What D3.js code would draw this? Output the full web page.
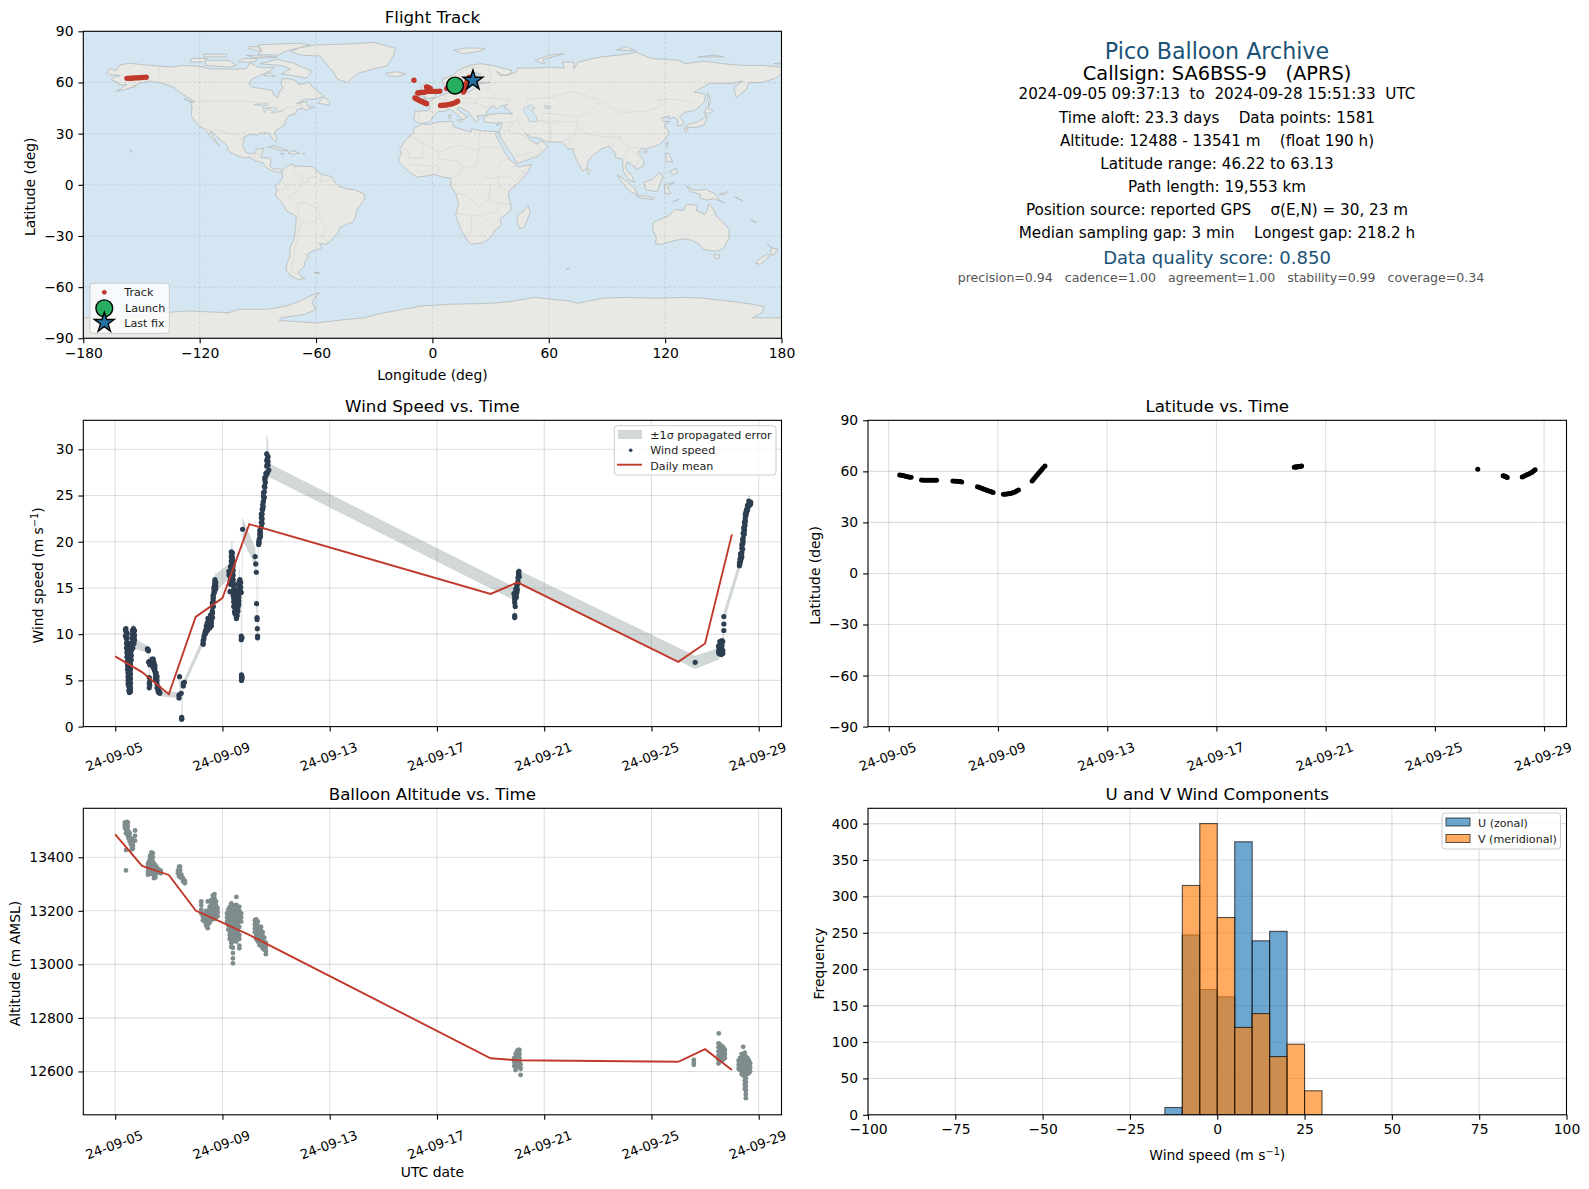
<!DOCTYPE html>
<html>
<head><meta charset="utf-8"></head>
<body style="margin: 0; background: #fff">
  <script src="https://d3js.org/d3.v7.min.js"></script>

  <script>
    // land outlines as [lon, lat]
    const northAmerica = [[-168,65.6],[-166,68.3],[-163,67],[-161,70.3],[-156.5,71.3],[-150,70.5],[-141,69.6],[-135,69],[-128,70],[-120,69.5],[-115,68],[-108,68],[-102,67.8],[-96,68],[-94,71.5],[-90,69],[-86,68.7],[-81.5,69],[-84,66.5],[-87,65],[-93,62],[-94.5,59],[-92.5,57],[-88,56.5],[-82.5,55.2],[-82,52.8],[-79.5,51.3],[-79,54.5],[-77,56.5],[-78,59],[-77.5,62.4],[-73,62],[-70,60.8],[-69,58.8],[-65.5,59.5],[-64,60.3],[-61,56.5],[-57,53],[-56,52],[-60,50.2],[-66,50.2],[-70,47.5],[-65,48.9],[-65,47],[-64,46],[-61,45.5],[-65.5,43.7],[-67,45],[-70,43.7],[-70.5,41.7],[-74,40.6],[-75.5,38],[-76,37],[-76,35],[-79,33.3],[-81,31.5],[-81.4,30],[-80,26.8],[-80.5,25.2],[-81.8,26],[-82.8,28],[-84,30],[-86,30.4],[-89,30.2],[-90,29.2],[-94,29.6],[-97,28],[-97.5,25],[-97.8,22.5],[-96,19],[-94.5,18.2],[-91.5,18.5],[-90.5,21],[-87,21.5],[-88,18.5],[-88.5,16],[-84,15.8],[-83.3,14.5],[-83.7,11],[-82,9],[-79.5,9.5],[-77.3,8.6],[-78,7.5],[-80.5,7.3],[-83,8.3],[-85.5,10],[-87.5,13],[-91,14],[-94.5,16.2],[-97,15.8],[-101.5,17.5],[-105.5,20],[-105.5,22.5],[-109,26],[-112.5,30],[-114.7,31.7],[-113,28],[-110.5,24],[-109.7,23],[-112,25],[-115,29],[-117.2,32.6],[-120.6,34.5],[-122.5,37.8],[-124.3,40.3],[-124,46],[-124.7,48.4],[-122.5,48.5],[-125,50.5],[-128,52.5],[-130.5,54.5],[-133,57],[-137,58.5],[-140,59.8],[-146,60.8],[-149,60],[-152,59.2],[-154,57.5],[-158,56],[-163,54.8],[-160,57],[-157.5,58.8],[-162,58.7],[-162,60],[-165.5,61.5],[-164.5,63],[-161,64],[-166,64.6]];
    const southAmerica = [[-77.3,8.6],[-75,11],[-72,12.2],[-71.5,10.8],[-68,11],[-62,10.6],[-60,8.5],[-57,6],[-52,4.8],[-50,1],[-48,-1],[-44,-2.5],[-40,-3],[-35,-5.5],[-34.8,-8],[-37,-11.5],[-39,-15],[-39.5,-18.5],[-41,-22],[-44,-23],[-48,-25.5],[-48.8,-28.5],[-52,-32.5],[-55,-35],[-58.3,-34.2],[-57,-37],[-62,-39],[-65,-41],[-64,-43],[-66,-45.5],[-66,-47.5],[-69,-51],[-68.5,-53],[-65.5,-55],[-69,-55.5],[-73,-53.5],[-75.5,-50],[-75,-46],[-73.5,-42],[-73.5,-37],[-71.5,-32],[-70.5,-25],[-70.2,-18.5],[-75,-15.5],[-78,-10],[-81,-6],[-80,-3],[-81,-1],[-78.5,2],[-77.3,4],[-77.5,7]];
    const greenland = [[-73,78.2],[-68,76],[-58,75.5],[-54,70],[-51,66],[-49,62],[-44,60],[-42,62],[-38,65.5],[-30,68],[-23,70],[-22,72.5],[-20,76],[-19,80],[-30,83.5],[-45,82.5],[-60,82],[-68,80.5]];
    const eurasia = [[-9,37],[-9.5,38.8],[-9,43],[-2,43.5],[-1.2,46],[-4.5,48.5],[-1.5,48.8],[1.5,50.9],[4,52],[7,53.5],[8.5,54],[8.2,57],[10.5,57.5],[10,55],[11,54],[14,54],[19,54.5],[21,56],[24,57.5],[24,59.3],[30,60],[25,60.2],[21.5,60.7],[21.3,63],[25,65],[22,65.8],[17.5,62.5],[17.5,60.5],[19,59.8],[16.5,57],[14.3,55.5],[12.8,55.5],[11,59],[8,58],[5.5,59],[5,62],[10,64],[14,67.5],[19,70],[25,71],[31,70],[41,67],[40,64.5],[35,64],[33,66.5],[37,64],[43,66],[44,68.5],[54,68.5],[60,69],[68,68.5],[67,72],[73,72],[73,68],[75,72],[81,73.5],[87,75],[100,76.5],[105,77.7],[113,74],[127,73],[130,71],[140,72.5],[150,71],[160,70],[170,70],[180,69],[180,65],[177,62.5],[170,60],[163,59.8],[162,56],[156.7,51],[155.5,57],[160,61],[155,59.5],[143,59.5],[135,54.5],[141,53],[140,48],[135,43.5],[130,42.5],[127.5,39.8],[129.4,37],[129,35],[126.3,34.5],[126.6,37.5],[125,39.5],[121.5,39],[122,40.5],[118,39],[119,37.2],[122.5,37],[119.5,35],[122,31],[121,28],[117,23.5],[113,22],[110,21],[108,21.5],[106,19],[109,14],[109,11.5],[105,8.7],[105,10],[100.5,13.5],[99.5,10],[103,5],[104,1.5],[101,3],[98.5,8],[98,15],[94.5,16],[94,19],[91,22.5],[87,21],[82,16.5],[80,13],[79.8,10],[77.5,8],[74.5,14],[72.8,19],[72.7,21],[70,21],[69,22.5],[67,25],[61,25.2],[57,25.8],[56.3,27],[51,28],[48.5,30],[50,26.5],[51.5,25.5],[54,24],[56.3,25.8],[59.5,22.5],[55,17],[45,13],[43.3,12.7],[42,16],[39,21],[35,28],[34.3,31],[35,32],[36,36.5],[33,36.2],[30.5,36.3],[27,37],[26.3,39.5],[29,41],[35,42],[41.5,41.5],[39,44],[37,45.2],[38.5,47],[35,46],[33.5,44.5],[31,46.5],[28,43],[28,41.2],[26,40.7],[23,40.5],[24,38],[22.5,36.5],[19.5,41],[19,42.5],[14,45.5],[12.5,44.5],[16,41.5],[18.5,40],[16.5,39],[16,38],[12,42],[9,44.4],[6,43],[3,43],[0,39.5],[-0.5,38],[-2,36.8],[-5.5,36]];
    const africa = [[-5.5,35.8],[-2,35.2],[3,36.8],[10,37.3],[11,34],[15,32.5],[20,31],[20,32.8],[25,31.7],[32,31.2],[34.3,31.2],[32.5,29.8],[35,24],[37.3,19],[39.5,15],[43.3,11.5],[44.5,10.5],[51,12],[49,7],[45,2],[40,-3],[39,-6],[40.5,-11],[40.5,-15],[35,-20],[35.5,-24],[32.8,-26],[30,-31],[26,-34],[20,-34.8],[18.3,-33],[15,-27],[12,-18],[13.5,-11],[12,-5],[9.5,-1],[9.5,4],[5.5,4.5],[1,6],[-4,5],[-8,4.5],[-13,8.5],[-16.7,12.5],[-17.5,14.7],[-16,19],[-17,21],[-13,27.5],[-10,30],[-9.5,33]];
    const australia = [[114,-22],[113.5,-26],[115.5,-31],[115,-34.5],[118,-35],[124,-33],[129,-31.7],[134,-32.5],[137.7,-35],[140,-38],[146.5,-39],[150,-37.5],[153,-31],[153,-26],[149,-21],[146,-18],[145.3,-15],[142.5,-11],[141.7,-15],[140.5,-17.5],[136,-15],[136.7,-12],[131,-11.5],[129.5,-15],[125,-14.5],[122,-18],[118,-20]];
    const antarctica = [[-180,-78],[-150,-77],[-140,-75],[-125,-74],[-105,-75],[-100,-73],[-85,-73],[-75,-71],[-68,-68],[-62,-64.5],[-58,-63.3],[-60,-65],[-62,-69],[-60,-73],[-66,-76],[-78,-78],[-79,-79.5],[-60,-81],[-45,-79],[-35,-78],[-27,-75.5],[-15,-73],[-5,-71],[10,-70],[30,-69.5],[40,-68.5],[53,-66],[60,-67],[70,-68],[75,-69.5],[88,-66.5],[100,-66],[115,-66.5],[130,-66],[140,-66.5],[155,-68.5],[165,-70],[171,-71.5],[170,-75],[165,-78],[180,-78],[180,-90],[-180,-90]];
    const islands = [
      [[-80,73.5],[-72,71.5],[-67,69],[-62,66.5],[-65,62.5],[-72,64],[-78,65],[-73,68],[-78,70],[-89,71]],
      [[-90,76.5],[-80,76],[-75,78.5],[-63,82],[-70,83],[-90,82],[-88,79]],
      [[-117,70],[-105,69],[-101,70],[-105,73],[-117,73]],
      [[-125,72],[-118,72],[-116,74],[-124,74.2]],
      [[-96,76],[-80,75],[-80,74.5],[-92,74.5]],
      [[-100,72],[-92,72],[-90,74],[-98,74]],
      [[-118,75],[-106,75],[-106,76.5],[-118,76.5]],
      [[-95,80],[-88,78],[-90,81],[-95,81]],
      [[-87,64],[-81,63.5],[-84,65.8]],
      [[-59,47.8],[-53,46.7],[-53,49],[-56,51.5]],
      [[-128,50.5],[-123.5,48.4],[-125,48.8]],
      [[-85,22],[-82,23],[-77,21],[-74.2,20],[-78,19.9],[-83,22]],
      [[-74.3,18.5],[-72,20],[-68.5,18.7],[-71.5,17.8]],
      [[-78.3,18.4],[-76.3,18.1],[-77,17.8]],
      [[-67.2,18.4],[-65.7,18.3],[-66.5,18]],
      [[-156,20.8],[-155,19.7],[-155.7,19]],
      [[-154.5,58],[-152.5,58.3],[-153.5,57]],
      [[-61,-51.5],[-58,-51.3],[-59,-52.3]],
      [[-5,50],[1.3,51.2],[1.7,52.7],[-1,55],[-2,57.6],[-5,58.6],[-6,56.5],[-3,54],[-5,53],[-5,51.7],[-3,51.3]],
      [[-10,52],[-6,52],[-6,55],[-8.5,55]],
      [[-24,65.5],[-18,66.3],[-14,65],[-18,63.4],[-22.5,63.9]],
      [[11,79],[16,76.8],[25,78.5],[27,80],[18,80.3]],
      [[55,72],[58,70.7],[57,73.5],[68,76.8],[60,76],[53,73]],
      [[95,79],[105,78.5],[100,81]],
      [[137,75],[150,75],[145,76]],
      [[176,71],[180,71.5],[179,70.8]],
      [[142,54],[143.5,49],[142.5,46],[142,50]],
      [[130.9,34],[135,33.5],[140,35],[141.5,39],[141,41.3],[139.8,39],[136.7,37],[132,35.3]],
      [[140,42],[141.5,45.3],[145,43.5],[143,42]],
      [[130,33.5],[131.8,33],[131,31],[130,31.8]],
      [[120.2,23],[121.5,25.2],[121,22]],
      [[108.7,19.3],[110.8,20],[110,18.3]],
      [[120.5,18.5],[122,18.3],[124,13],[120.5,14]],
      [[122,7.5],[125.5,9.7],[126.5,7],[124.5,6]],
      [[109,1.5],[113,3],[117,7],[119,5],[117.5,1],[116,-4],[110,-3]],
      [[95.3,5.6],[98,4],[104,-1.5],[106,-5.8],[102,-4],[98,1]],
      [[105.2,-6.5],[110,-6.5],[114.5,-7.7],[114,-8.7],[106,-7.5]],
      [[119.5,0],[125,1.5],[121,-1],[123,-5],[120,-5.5]],
      [[131,-0.8],[135,-3.3],[141,-2.7],[146,-5.5],[148,-9],[150.5,-10.5],[145,-8],[142,-9],[138,-8],[138,-5.5],[133,-4]],
      [[124,-10],[127,-8.5],[125,-9.5]],
      [[148,-5.5],[152,-4],[151,-6]],
      [[156,-7],[160,-9.5],[158,-8.5]],
      [[164,-20],[167,-22],[165.5,-21.8]],
      [[145,-41],[148,-41],[148,-43],[146,-43.5]],
      [[172.7,-34.5],[175,-37],[178.3,-37.7],[176,-41],[174.8,-41.3],[174.5,-39],[174.7,-37]],
      [[172.7,-40.5],[174,-41.5],[171,-45],[169,-46.6],[166.5,-46],[168,-44]],
      [[49.3,-12],[50.5,-15.5],[47.5,-25],[45,-25.5],[43.5,-22],[44.3,-17],[47,-15.5]],
      [[80,9.7],[81.8,7.5],[80.5,6],[79.7,8]],
      [[33,35.4],[34.5,35.6],[33.5,34.6]],
      [[8.3,41],[9.7,41],[9.5,39],[8.5,39]],
      [[12.5,38],[15.5,38.2],[15,36.7]],
      [[69,-49],[70.5,-49.2],[69.5,-49.7]]
    ];
    const inlandWater = [
      [[47,45],[51,47],[53,45],[51,44],[53.5,40],[54,37],[50,37.3],[49,40],[47,43]],
      [[-92,47],[-85,48],[-84.5,46.5],[-88,46.5]],
      [[-87.5,45.5],[-86,45],[-82,45.5],[-80,44.5],[-82,43],[-85,45],[-86.5,42]],
      [[-83,42],[-79,43.2],[-76.5,43.8],[-79,42.8]],
      [[58,46.5],[61,46],[60,44.5],[58,45]]
    ];
    const borders = [
      [[-141,69.6],[-141,60.3]],[[-123,49],[-95,49],[-89,48],[-84,46.5],[-82.5,42],[-79,43],[-75,45],[-70,46],[-67.5,47.2],[-67,45]],
      [[-117.2,32.6],[-108,31.5],[-104,29.5],[-101,29.5],[-97.3,26]],[[-92,14.5],[-91,17.8],[-89,17.8],[-88.5,16]],
      [[-70,12],[-72,7],[-67.5,6],[-67,1],[-70,-4],[-74,-7],[-70,-11],[-69,-16],[-69.5,-18]],[[-78.5,1.5],[-75,0],[-75,-2],[-80,-3.5]],
      [[-60,8.5],[-60,5],[-64,4],[-64,1.5],[-67,1]],[[-57,6],[-58,2]],[[-52,4.8],[-54,2.3],[-58,2]],
      [[-69,-11],[-65,-10],[-60,-14],[-58,-17],[-58,-20],[-54.5,-25.5],[-57.5,-30],[-53.5,-33.5]],[[-69.5,-18],[-67.5,-22.5],[-62.5,-22],[-58,-20]],
      [[-67.5,-22.5],[-69.5,-30],[-71,-38],[-72,-46],[-72.5,-51],[-68.5,-52.5]],
      [[-8.7,27.3],[-5,25],[3,19],[12,23],[15,23],[24,20],[24,29],[25,31.7]],[[-13,27.5],[-8.7,27.3]],[[-17,21],[-13,21],[-12,16],[-5,15.5],[-5,25]],[[3,19],[4,15],[13,14],[15,10],[14,6],[9.5,4]],
      [[24,20],[23,15],[22,11],[27,5],[31,3.5],[35,5],[42,4]],[[24,22],[37,22]],[[34,10],[36,14],[39,15]],[[42,11],[45,8],[48,8],[42,1.5]],[[34,4.5],[34,-1],[40,-4.5]],[[30,-1],[29,-8],[34,-11],[40,-11]],
      [[12,-5],[17,-6],[22,-11],[24,-13],[30,-8]],[[12,-17],[24,-18],[33,-16],[35,-12]],[[20,-18],[20,-28],[17,-29]],[[25,-18],[29,-22],[32,-25]],[[-8,8],[-3,5.5]],[[-12,12],[-3,11],[3,11.5],[3,6.5]],[[15,10],[22,11]],
      [[2,42.5],[-2,43.3]],[[-7,42],[-7,37]],[[2.5,51],[8,49],[7.5,47.5],[6,46],[7.5,44]],[[7,53.5],[6,51],[8,49]],[[14,54],[15,51],[12,50],[13,47.7],[7.5,47.5]],[[15,51],[23,50],[22,48],[17,48],[13,47.7]],[[23,54],[24,51],[30,51],[40,50],[38.5,47]],[[22,48],[28,45.5],[30,46]],
      [[28,60],[31,62.5],[29,67],[29,70]],[[12,61],[14,65],[18,68.5],[21,69],[25,69]],[[27.5,57.5],[28,56],[32,53],[30,51]],
      [[47.5,42],[50,45],[48,50],[60,51],[72,55],[85,50],[87,49]],[[87,49],[97,42.5],[110,43],[119,47],[116,50],[127,50],[135,48]],[[87,49],[80,42],[74,39],[75,35],[79,30],[88,28],[97,28],[98,24],[102,22],[108,21.5]],
      [[61,36],[67,37],[74,37]],[[61,25.2],[61,30],[61,36],[54,37.5]],[[67,25],[71,28],[74,32],[75,35]],[[72,21],[70,24],[74,30]],[[88,26],[92,22.5]],[[97,28],[94,24],[92,21]],[[98,16],[101,20],[100,22]],[[102,22],[105,18],[107,15],[105,11]],[[100,6.5],[102,6]],
      [[44,39.5],[45,35],[48,30]],[[36,36.5],[42,37],[44,37]],[[39,32],[47,29],[48,28.5]],[[35,29.5],[39,32],[42,37]],[[52,16.5],[56,20],[55.5,22.5],[52,24]],[[43,17],[52,19]],
      [[54,37.5],[60,38],[66,37.5]],[[56,42],[66,41],[73,40]],[[125,40],[130,42.5]]
    ];

    // flight track [day of Sep, lat, lon]
    const track = [
      [5.40,57.8,11.0],[5.46,57.7,10.4],[5.52,57.5,9.8],[5.58,57.3,9.2],[5.64,57.0,8.8],[5.70,56.8,8.3],[5.76,56.6,7.8],[5.82,56.5,7.4],
      [6.20,54.9,3.8],[6.27,54.8,2.8],[6.34,54.8,1.8],[6.41,54.8,0.8],[6.48,54.8,-0.2],[6.55,54.8,-1.0],[6.62,54.8,-1.8],[6.69,54.8,-2.4],[6.75,54.8,-3.0],
      [7.35,54.3,-4.0],[7.42,54.2,-4.8],[7.49,54.2,-5.5],[7.56,54.1,-6.2],[7.62,54.0,-7.0],[7.67,53.8,-7.5],
      [8.25,50.9,-9.0],[8.31,50.6,-8.4],[8.37,50.2,-7.9],[8.43,49.9,-7.3],[8.49,49.5,-6.7],[8.55,49.2,-6.1],[8.61,48.8,-5.4],[8.67,48.4,-4.7],[8.73,48.1,-4.0],[8.78,47.8,-3.5],[8.82,47.5,-3.0],
      [9.20,46.5,4.2],[9.26,46.6,5.2],[9.32,46.7,6.2],[9.38,46.8,7.2],[9.44,47.0,8.2],[9.50,47.2,9.2],[9.56,47.5,10.2],[9.62,47.9,11.2],[9.68,48.4,12.2],[9.75,49.0,13.0],
      [10.25,54.4,16.0],[10.30,55.3,16.3],[10.35,56.2,16.6],[10.40,57.2,16.9],[10.45,58.2,17.2],[10.50,59.2,17.5],[10.55,60.1,17.8],[10.60,61.0,18.1],[10.65,61.9,18.5],[10.72,63.1,19.0],
      [19.85,62.4,-157.5],[19.88,62.5,-156.3],[19.91,62.5,-155.1],[19.94,62.6,-154.0],[19.97,62.7,-153.0],[20.00,62.7,-152.0],[20.03,62.8,-151.0],[20.06,62.9,-150.0],[20.09,63.0,-149.0],[20.12,63.1,-147.6],
      [26.57,61.3,-9.5],
      [27.50,57.4,-3.0],[27.54,57.2,-2.5],[27.58,57.0,-2.0],[27.62,56.7,-1.5],[27.65,56.4,-1.0],
      [28.20,56.7,14.5],[28.26,57.1,15.2],[28.32,57.6,15.9],[28.38,58.1,16.5],[28.44,58.5,17.2],[28.50,59.0,17.9],[28.56,59.5,18.6],[28.62,60.3,19.3],[28.67,60.9,20.0]
    ];
    const launchFix = [11.66, 58.2];
    const lastFix = [20.9, 61.2];

    // wind speed rows: [day, sigma, speeds at that time]. these trace the error band
    const windRows = [
      [5.40,0.55,[10.6,10.3]],[5.42,0.55,[10,9.5,9,8.5]],[5.44,0.5,[8,7.5,7]],[5.46,0.5,[6.6,6.2]],[5.48,0.45,[5.8,5.4,5,4.6]],[5.53,0.4,[4.3,3.9,3.7]],
      [5.55,0.45,[4,4.5,5,5.5,6,6.5,7]],[5.57,0.5,[7.5,8]],[5.60,0.5,[8.5,9]],[5.64,0.55,[9.5,9.9,10.4]],[5.68,0.55,[10.6,10.2]],[5.70,0.55,[9.7,9.3,9]],
      [6.22,0.35,[8.35,8.3]],[6.25,0.3,[7]],[6.27,0.35,[5.3,4.7,4.2,7,6.9]],[6.33,0.35,[7,6.8]],[6.42,0.4,[7.3,7,6.7,6.4]],[6.48,0.35,[6.6,6.3,6]],[6.53,0.35,[5.8,5.5,5.2,4.9]],[6.60,0.3,[4.3,4,3.8]],[6.66,0.3,[3.7,3.6]],
      [7.38,0.3,[3.4,3.1]],[7.40,0.4,[5.4]],[7.46,0.3,[3.6]],[7.48,0.2,[0.85,1,0.8]],[7.54,0.35,[4.4,4.7]],[7.58,0.35,[4.8]],
      [8.28,0.4,[9.3,9,8.9]],[8.35,0.45,[10,10.2]],[8.40,0.45,[10.3,10.6,10.9]],[8.46,0.45,[10.5,10.9,11.3,11.7]],[8.53,0.45,[10.7,11.1,11.5,11.8]],[8.59,0.5,[10.9,11.3,11.7,12.1]],[8.62,0.55,[12.5,13,13.4]],[8.65,0.6,[13.8,14.2]],[8.68,0.7,[14.6,15]],[8.72,0.9,[15.4,15.7,15.9,15.5]],
      [9.24,0.8,[16.8,16.4]],[9.28,0.7,[14.6,15.7]],[9.33,1.2,[16.5,17,17.4,17.9,18.4,18.9]],[9.37,1.1,[18.8,18.3,17.8,17.3,16.8,16.2,15.7]],[9.42,0.7,[15.2,14.8,14.4,13.9,13.5,13]],[9.47,0.6,[13.4,12.9,12.5,12.2]],[9.52,0.55,[11.9,11.7,12,12.4]],[9.58,0.7,[12.5,12.9,13.3,13.7,14.1,14.5]],[9.62,1.1,[14.9,15.3,15.7]],[9.65,1.3,[15.9,15.5,14.8]],[9.70,0.5,[14.5,9.8,9.4]],[9.71,0.4,[5.6,5.3,5]],[9.75,1.2,[21.35]],
      [10.22,0.9,[18.4]],[10.24,0.85,[17.6]],[10.26,0.8,[16.7]],[10.27,0.65,[13.3]],[10.29,0.6,[11.8,11.6]],[10.30,0.55,[10.6]],[10.31,0.55,[9.8,9.6]],
      [10.35,0.8,[19.7,20]],[10.39,0.8,[20.4,20.8,21.2]],[10.45,0.9,[21.6,22.1,22.6,23]],[10.50,1,[23.5,24]],[10.53,1.1,[24.4,24.9,25.3]],[10.58,1.3,[25.9,26.7,26.9]],[10.62,1.5,[27.4]],[10.65,2.1,[27.3,28.2,28.8,29.5]],[10.70,1.6,[29.2,28.7,28.3]],[10.73,0.72,[27.75]],
      [19.87,0.7,[14.4]],[19.90,0.55,[12,11.8,13.4,13.7,14]],[19.94,0.6,[14.2,14.6,14.9]],[19.98,0.6,[14.5,15,15.3]],[20.02,0.65,[15.7,16.1]],[20.04,0.65,[16.7,16.5]],[20.07,0.65,[16.2]],
      [26.63,0.7,[6.95]],
      [27.52,0.6,[7.9,8.2,8.5]],[27.55,0.55,[8,8.4,8.8,9.2]],[27.60,0.5,[7.8,8.1,8.5,8.9]],[27.66,0.5,[7.9,8.2,9.2]],[27.70,0.5,[10.4,11.1,11.9]],
      [28.28,0.5,[17.4,17.7]],[28.32,0.5,[17.9,18.3,18.7]],[28.37,0.55,[18.4,18.8,19.3,19.7]],[28.42,0.55,[20,20.4,20.9]],[28.44,0.6,[21,21.5]],[28.47,0.6,[21.3,21.7,22.1]],[28.50,0.65,[22.2,22.6,23]],[28.55,0.65,[23.2,23.5]],[28.60,0.7,[23.7,24]],[28.66,0.72,[24.3,24.1]],[28.68,0.7,[24]]
    ];
    // more wind samples inside the dense columns, dots only
    const windExtraRows = [
      [5.38,[10.5,9.8]],[5.45,[10.1,9.6,9.1,8.6,8.1,7.6]],[5.49,[7.2,6.8,6.3,5.9]],[5.50,[9,8.5,8]],[5.51,[5.5,5.1,4.7,4.3,3.9]],[5.52,[8,7.5,7,6.5,6]],[5.57,[3.8,4.2,4.7,5.2,5.7,6.2,6.7]],[5.60,[7.2,7.7,8.2]],[5.66,[8.5,9,9.5,10]],[5.72,[10.4,9.9,9.4]],
      [6.20,[8.4]],[6.24,[8.2]],[6.29,[6.7,4.5,4.9]],[6.37,[6.6,7.1,7.3]],[6.45,[6.9,6.5,6.2]],[6.50,[5.7,5.3,5]],[6.56,[5.4,5,4.6,4.2]],[6.63,[3.9,3.7]],
      [8.31,[9.5,9.8]],[8.37,[10.4,10.1]],[8.43,[10.7,11.2,10.4]],[8.50,[11.3,11.7,11]],[8.56,[11.9,11.4,12.1]],[8.63,[11.8,12.3]],[8.66,[13,13.5,14]],[8.70,[14.5,15.2]],[8.75,[15.2,15.6,14.9]],
      [9.30,[17.3,16,15.4]],[9.35,[18.6,18.1,17.6,17.1,16.6,16]],[9.40,[17.9,17.4,16.9,16.4,15.9,15.3,14.7,14.2]],[9.45,[15.4,14.9,14.4,14,13.5,12.9,12.4]],[9.50,[13.4,13,12.6,12.3]],[9.55,[12,12.4,12.8,13.2]],[9.61,[13.2,13.6,14,14.4,14.8]],[9.68,[15.6,15.1,14.6]],[9.73,[9.6,5.4,5.2]],
      [10.37,[19.9,20.3]],[10.42,[20.6,21,21.4]],[10.48,[22,22.5,23,23.5]],[10.52,[23.8,24.3]],[10.56,[24.8,25.4,26]],[10.60,[26.4,27]],[10.68,[28.5,29,27.5]],
      [19.92,[13,14.2]],[19.96,[14,14.4,14.8]],[20.00,[14.8,15.4]],[20.06,[16.4,16.8]],
      [27.50,[8.1,8.7]],[27.57,[7.9,8.3,8.7,9.1]],[27.63,[8,8.4,8.8,9.3]],
      [28.30,[17.6,18.1]],[28.35,[18.2,18.6]],[28.40,[19.2,19.7,20.2]],[28.46,[20.8,21.2]],[28.49,[21.8,22.3]],[28.53,[22.9,23.3]],[28.58,[23.4,23.9]],[28.63,[23.9,24.4]],[28.70,[24.1,24.3]]
    ];
    const windMeanDays = [5, 6, 7, 8, 9, 10, 19, 20, 26, 27, 28];
    const windMeanValues = [7.6, 5.9, 3.5, 11.87, 13.9, 21.9, 14.35, 15.6, 7.0, 9.0, 20.8];

    // altitude rows: [day, altitudes at that time]
    const altRows = [
      [5.36,[13530,13520,13510]],[5.40,[13530,13520,13505,13490,13427,13351]],[5.44,[13532,13520,13505,13490]],[5.47,[13530,13515,13500,13480]],[5.50,[13495,13480,13470]],[5.54,[13490,13475,13460]],[5.58,[13465,13450]],[5.62,[13470,13455,13440,13430]],[5.66,[13460,13445,13432]],[5.74,[13500,13480,13462]],
      [6.22,[13375,13360,13345,13335]],[6.26,[13385,13370,13355,13340]],[6.30,[13405,13395,13385,13370,13355,13345]],[6.35,[13418,13408,13395,13380,13365,13350,13338]],[6.40,[13415,13400,13385,13370,13355,13340]],[6.45,[13375,13360,13345,13330,13322]],[6.50,[13370,13355,13340,13325]],[6.55,[13362,13350,13340]],[6.62,[13355,13345]],[6.70,[13350,13340]],
      [7.34,[13350,13340]],[7.38,[13365,13352,13340,13328]],[7.42,[13365,13352,13335]],[7.47,[13335,13322]],[7.53,[13322,13310]],[7.60,[13312,13303]],
      [8.21,[13235,13222,13205,13190]],[8.27,[13190,13178,13165]],[8.33,[13185,13170,13160]],[8.39,[13200,13185,13170,13155,13145]],[8.45,[13235,13200,13180,13165,13148,13135]],[8.52,[13215,13200,13185,13170,13155]],[8.58,[13240,13225,13210,13195,13180,13165]],[8.64,[13258,13245,13230,13215,13200,13185,13170]],[8.70,[13262,13248,13230,13215,13200,13185,13170]],[8.76,[13235,13220,13205,13190,13175]],[8.82,[13210,13195,13180]],
      [9.17,[13190,13175,13160]],[9.22,[13205,13190,13175,13160,13145,13130]],[9.27,[13215,13200,13185,13170,13155,13140,13125,13110,13095]],[9.33,[13228,13215,13200,13185,13170,13155,13140,13125,13110,13095,13080,13065]],[9.39,[13190,13175,13160,13145,13130,13115,13100,13085,13062,13042,13022,13004]],[9.46,[13220,13205,13190,13175,13160,13145,13130,13115,13100]],[9.52,[13252,13222,13205,13190,13175,13160,13145,13130,13115,13100,13085]],[9.58,[13215,13200,13185,13170,13155,13140,13125,13110,13095]],[9.63,[13215,13200,13185,13170,13140,13110,13095,13070,13060]],[9.70,[13190,13175,13160]],
      [10.21,[13165,13150,13135,13120]],[10.26,[13168,13155,13140,13125,13110,13095]],[10.32,[13160,13145,13130,13115,13100,13085]],[10.38,[13130,13115,13100,13085,13072]],[10.44,[13140,13125,13110,13095,13080,13070]],[10.50,[13120,13105,13090,13075,13060]],[10.56,[13100,13085,13070,13055]],[10.62,[13080,13065,13050,13038]],
      [19.88,[12650,12635,12620]],[19.93,[12665,12650,12635,12620,12605]],[19.98,[12675,12660,12645,12630,12615]],[20.03,[12680,12665,12650,12635,12620]],[20.08,[12680,12665,12650,12635]],[20.12,[12625,12610,12587]],
      [26.58,[12643,12632,12625]],
      [27.51,[12742]],[27.50,[12705,12690,12675,12660,12645,12630]],[27.56,[12700,12685,12670,12655,12640]],[27.62,[12695,12680,12665,12650,12640]],[27.68,[12690,12675,12660,12645]],[27.74,[12680,12665,12650]],
      [28.25,[12640,12625,12610]],[28.30,[12650,12635,12620,12605]],[28.36,[12665,12650,12635,12620,12605,12590]],[28.42,[12692,12660,12645,12630,12615,12600,12585]],[28.48,[12670,12655,12640,12625,12610,12595,12580,12565,12550,12535]],[28.52,[12655,12640,12625,12610,12595,12575,12560,12545,12530,12515,12500]],[28.58,[12650,12635,12620,12605,12590]],[28.64,[12640,12625,12610,12595]],[28.68,[12630,12615,12600]]
    ];
    const altMeanDays = [5, 6, 7, 8, 9, 10, 19, 20, 26, 27, 28];
    const altMeanValues = [13486, 13368, 13334, 13201, 13156, 13110, 12649, 12642, 12636, 12683, 12605];

    // histogram, 5 m/s bins
    const binEdges = [-15, -10, -5, 0, 5, 10, 15, 20, 25, 30];
    const uCounts = [10, 247, 172, 162, 375, 239, 252, 0, 0];
    const vCounts = [0, 315, 400, 271, 120, 139, 80, 97, 33];

    const dateTicks = [5, 9, 13, 17, 21, 25, 29];
    const lonTicks = [-180, -120, -60, 0, 60, 120, 180];
    const latTicks = [-90, -60, -30, 0, 30, 60, 90];
    const windTicks = [0, 5, 10, 15, 20, 25, 30];
    const altTicks = [12600, 12800, 13000, 13200, 13400];
    const histXTicks = [-100, -75, -50, -25, 0, 25, 50, 75, 100];
    const histYTicks = [0, 50, 100, 150, 200, 250, 300, 350, 400];

    const infoLines = [
      ["Pico Balloon Archive", 51, 22.2, "#1a5276"],
      ["Callsign: SA6BSS-9   (APRS)", 73, 19.4, "#000"],
      ["2024-09-05 09:37:13  to  2024-09-28 15:51:33  UTC", 94, 15.2, "#000"],
      ["Time aloft: 23.3 days    Data points: 1581", 117.5, 15.2, "#000"],
      ["Altitude: 12488 - 13541 m    (float 190 h)", 140.5, 15.2, "#000"],
      ["Latitude range: 46.22 to 63.13", 163.5, 15.2, "#000"],
      ["Path length: 19,553 km", 186.5, 15.2, "#000"],
      ["Position source: reported GPS    \u03c3(E,N) = 30, 23 m", 209.5, 15.2, "#000"],
      ["Median sampling gap: 3 min    Longest gap: 218.2 h", 233, 15.2, "#000"],
      ["Data quality score: 0.850", 257.5, 18, "#1a5276"],
      ["precision=0.94   cadence=1.00   agreement=1.00   stability=0.99   coverage=0.34", 277, 12.55, "#555"]
    ];

    const FONT = "'DejaVu Sans', sans-serif";
    const RED = "#c0392b";
    const NAVY = "#2c3e50";
    const GREY = "#7f8c8d";

    const svg = d3.select("body").append("svg")
      .attr("width", 1589).attr("height", 1189)
      .style("display", "block")
      .style("font-family", FONT);

    const boxes = {
      map: { l: 83.3, r: 781.5, t: 31.3, b: 338.3 },
      wind: { l: 83.3, r: 781.5, t: 420.3, b: 726.6 },
      lat: { l: 868, r: 1566.5, t: 420.3, b: 726.6 },
      alt: { l: 83.3, r: 781.5, t: 808.3, b: 1114.8 },
      hist: { l: 868, r: 1566.5, t: 808.3, b: 1114.8 }
    };

    const dateLabel = (d) => "24-09-" + d3.format("02")(d);

    // one panel: scales, grid, axes, title. marks go in the returned clipped group
    const makePanel = (id, o) => {
      const b = boxes[id];
      const x = d3.scaleLinear().domain(o.xDomain).range([b.l, b.r]);
      const y = d3.scaleLinear().domain(o.yDomain).range([b.b, b.t]);
      const g = svg.append("g");

      svg.append("clipPath").attr("id", "clip-" + id).append("rect")
        .attr("x", b.l).attr("y", b.t).attr("width", b.r - b.l).attr("height", b.b - b.t);

      if (o.background) {
        g.append("rect").attr("x", b.l).attr("y", b.t).attr("width", b.r - b.l).attr("height", b.b - b.t)
          .attr("fill", o.background);
      }
      const under = g.append("g").attr("clip-path", "url(#clip-" + id + ")");
      const gridG = g.append("g");
      const marks = g.append("g").attr("clip-path", "url(#clip-" + id + ")");

      const grid = o.gridOver ? gridG : under;
      const gridWidth = o.gridOver ? 0.8 : 1.1;
      grid.selectAll(".gx").data(o.xTicks).enter().append("line")
        .attr("x1", (d) => x(d)).attr("x2", (d) => x(d)).attr("y1", b.t).attr("y2", b.b)
        .attr("stroke", "#808080").attr("stroke-opacity", 0.25).attr("stroke-width", gridWidth)
        .attr("stroke-dasharray", o.gridOver ? "3,2" : null);
      grid.selectAll(".gy").data(o.yTicks).enter().append("line")
        .attr("y1", (d) => y(d)).attr("y2", (d) => y(d)).attr("x1", b.l).attr("x2", b.r)
        .attr("stroke", "#808080").attr("stroke-opacity", 0.25).attr("stroke-width", gridWidth)
        .attr("stroke-dasharray", o.gridOver ? "3,2" : null);

      const top = g.append("g");
      const xAxis = top.append("g").attr("transform", `translate(0,${b.b})`)
        .call(d3.axisBottom(x).tickValues(o.xTicks).tickFormat(o.xFormat || null).tickSize(4.9).tickPadding(4.9));
      const yAxis = top.append("g").attr("transform", `translate(${b.l},0)`)
        .call(d3.axisLeft(y).tickValues(o.yTicks).tickFormat(o.yFormat || null).tickSize(4.9).tickPadding(4.9));
      [xAxis, yAxis].forEach((a) => {
        a.selectAll("text").attr("font-size", 13.9).attr("font-family", FONT).attr("fill", "#000");
        a.selectAll(".tick line").attr("stroke", "#000").attr("stroke-width", 1.1);
        a.select(".domain").remove();
      });
      if (o.rotate) {
        xAxis.selectAll("text")
          .attr("font-size", 13.2)
          .attr("text-anchor", "middle").attr("y", 0).attr("dy", "0.35em")
          .attr("transform", "translate(-1.5,30) rotate(-20)");
      }
      top.append("rect").attr("x", b.l).attr("y", b.t).attr("width", b.r - b.l).attr("height", b.b - b.t)
        .attr("fill", "none").attr("stroke", "#000").attr("stroke-width", 1.1);

      top.append("text").attr("x", (b.l + b.r) / 2).attr("y", b.t - 8.5)
        .attr("text-anchor", "middle").attr("font-size", 16.67).text(o.title);

      if (o.xLabel) {
        top.append("text").attr("x", (b.l + b.r) / 2).attr("y", o.xLabelY)
          .attr("text-anchor", "middle").attr("font-size", 13.9).text(o.xLabel);
      }
      if (o.yLabel) {
        const t = top.append("text")
          .attr("transform", `translate(${o.yLabelX},${(b.t + b.b) / 2 + 2}) rotate(-90)`)
          .attr("text-anchor", "middle").attr("font-size", 13.9);
        o.yLabel(t);
      }
      return { x, y, marks, under, top, b };
    };

    const windLabel = (t) => {
      t.append("tspan").text("Wind speed (m s");
      t.append("tspan").attr("dy", -5).attr("font-size", 9.7).text("\u22121");
      t.append("tspan").attr("dy", 5).text(")");
    };

    // --- map
    const mapP = makePanel("map", {
      xDomain: [-180, 180], yDomain: [-90, 90], xTicks: lonTicks, yTicks: latTicks,
      title: "Flight Track", xLabel: "Longitude (deg)", xLabelY: 380,
      yLabel: (t) => t.text("Latitude (deg)"), yLabelX: 35,
      background: "#d4e6f1", gridOver: true
    });
    const geoLine = d3.line().x((d) => mapP.x(d[0])).y((d) => mapP.y(d[1]));
    const landShapes = [northAmerica, southAmerica, greenland, eurasia, africa, australia, antarctica].concat(islands);
    mapP.under.selectAll(".land").data(landShapes).enter().append("path")
      .attr("d", (d) => geoLine(d) + "Z")
      .attr("fill", "#e8e8e4").attr("stroke", "#b4babb").attr("stroke-width", 0.8).attr("stroke-linejoin", "round");
    mapP.under.selectAll(".water").data(inlandWater).enter().append("path")
      .attr("d", (d) => geoLine(d) + "Z")
      .attr("fill", "#d4e6f1").attr("stroke", "#b4babb").attr("stroke-width", 0.6);
    mapP.under.selectAll(".border").data(borders).enter().append("path")
      .attr("d", geoLine).attr("fill", "none").attr("stroke", "#d8d9d6").attr("stroke-width", 0.8);

    mapP.marks.selectAll(".trk").data(track).enter().append("circle")
      .attr("cx", (d) => mapP.x(d[2])).attr("cy", (d) => mapP.y(d[1])).attr("r", 2.7).attr("fill", RED);
    mapP.marks.append("circle")
      .attr("cx", mapP.x(launchFix[0])).attr("cy", mapP.y(launchFix[1])).attr("r", 8.4)
      .attr("fill", "#27ae60").attr("stroke", "#000").attr("stroke-width", 1.4);
    const starPath = d3.symbol(d3.symbolStar, 122)();
    mapP.marks.append("path").attr("d", starPath)
      .attr("transform", `translate(${mapP.x(lastFix[0])},${mapP.y(lastFix[1])})`)
      .attr("fill", "#2471a3").attr("stroke", "#000").attr("stroke-width", 1.4);

    const legend = (parent, x, y, w, h) => {
      const g = parent.append("g");
      g.append("rect").attr("x", x).attr("y", y).attr("width", w).attr("height", h).attr("rx", 3)
        .attr("fill", "#fff").attr("fill-opacity", 0.8).attr("stroke", "#ccc").attr("stroke-width", 1);
      return g;
    };
    const legendText = (g, x, y, s) => g.append("text").attr("x", x).attr("y", y).attr("font-size", 11.1).attr("fill", "#1a1a1a").text(s);

    const mapLeg = legend(mapP.top, 90, 283.3, 79.3, 50);
    mapLeg.append("circle").attr("cx", 104.3).attr("cy", 292.3).attr("r", 2.4).attr("fill", RED);
    mapLeg.append("circle").attr("cx", 104.3).attr("cy", 308.3).attr("r", 8.4).attr("fill", "#27ae60").attr("stroke", "#000").attr("stroke-width", 1.4);
    mapLeg.append("path").attr("d", starPath).attr("transform", "translate(104.3,322.7)").attr("fill", "#2471a3").attr("stroke", "#000").attr("stroke-width", 1.4);
    legendText(mapLeg, 124.3, 296, "Track");
    legendText(mapLeg, 125, 312, "Launch");
    legendText(mapLeg, 124.3, 327, "Last fix");

    // --- wind speed
    const windP = makePanel("wind", {
      xDomain: [3.81, 29.85], yDomain: [0, 33.14], xTicks: dateTicks, yTicks: windTicks, xFormat: dateLabel,
      rotate: true, title: "Wind Speed vs. Time", yLabel: windLabel, yLabelX: 43
    });
    const windPoints = windRows.flatMap((r) => r[2].map((v) => ({ day: r[0], sigma: r[1], v })));
    const windDots = windPoints.concat(windExtraRows.flatMap((r) => r[1].map((v) => ({ day: r[0], v }))));
    const windBand = d3.area().x((d) => windP.x(d.day))
      .y0((d) => windP.y(d.v - d.sigma)).y1((d) => windP.y(d.v + d.sigma));
    windP.marks.append("path").datum(windPoints).attr("d", windBand)
      .attr("fill", GREY).attr("fill-opacity", 0.35).attr("stroke", GREY).attr("stroke-opacity", 0.15).attr("stroke-width", 0.5);
    windP.marks.selectAll(".pt").data(windDots).enter().append("circle")
      .attr("cx", (d) => windP.x(d.day)).attr("cy", (d) => windP.y(d.v)).attr("r", 2.6).attr("fill", NAVY);
    windP.marks.append("path")
      .attr("d", d3.line().x((d, i) => windP.x(windMeanDays[i])).y((d) => windP.y(d))(windMeanValues))
      .attr("fill", "none").attr("stroke", RED).attr("stroke-width", 1.9);

    const windLeg = legend(windP.top, 614.3, 425.7, 161.7, 49.3);
    windLeg.append("rect").attr("x", 618).attr("y", 430).attr("width", 24).attr("height", 9).attr("fill", GREY).attr("fill-opacity", 0.35);
    windLeg.append("circle").attr("cx", 630.7).attr("cy", 450.3).attr("r", 1.8).attr("fill", NAVY);
    windLeg.append("line").attr("x1", 617).attr("x2", 642).attr("y1", 464.7).attr("y2", 464.7).attr("stroke", RED).attr("stroke-width", 1.9);
    legendText(windLeg, 650.3, 439, "\u00b11\u03c3 propagated error");
    legendText(windLeg, 650.3, 454.3, "Wind speed");
    legendText(windLeg, 650.3, 470, "Daily mean");

    // --- latitude
    const latP = makePanel("lat", {
      xDomain: [4.24, 29.82], yDomain: [-90, 90], xTicks: dateTicks, yTicks: latTicks, xFormat: dateLabel,
      rotate: true, title: "Latitude vs. Time", yLabel: (t) => t.text("Latitude (deg)"), yLabelX: 820
    });
    latP.marks.selectAll(".pt").data(track).enter().append("circle")
      .attr("cx", (d) => latP.x(d[0])).attr("cy", (d) => latP.y(d[1])).attr("r", 2.5).attr("fill", "#000");

    // --- altitude
    const altP = makePanel("alt", {
      xDomain: [3.81, 29.85], yDomain: [12438, 13583], xTicks: dateTicks, yTicks: altTicks, xFormat: dateLabel,
      rotate: true, title: "Balloon Altitude vs. Time", xLabel: "UTC date", xLabelY: 1177,
      yLabel: (t) => t.text("Altitude (m AMSL)"), yLabelX: 20, yFormat: (d) => String(d)
    });
    const altPoints = altRows.flatMap((r) => r[1].map((a) => ({ day: r[0], a })));
    altP.marks.selectAll(".pt").data(altPoints).enter().append("circle")
      .attr("cx", (d) => altP.x(d.day)).attr("cy", (d) => altP.y(d.a)).attr("r", 2.4).attr("fill", GREY);
    altP.marks.append("path")
      .attr("d", d3.line().x((d, i) => altP.x(altMeanDays[i])).y((d) => altP.y(d))(altMeanValues))
      .attr("fill", "none").attr("stroke", RED).attr("stroke-width", 1.9);

    // --- histogram
    const histP = makePanel("hist", {
      xDomain: [-100, 100], yDomain: [0, 421], xTicks: histXTicks, yTicks: histYTicks,
      title: "U and V Wind Components", xLabel: "Wind speed (m s", xLabelY: 1160,
      yLabel: (t) => t.text("Frequency"), yLabelX: 824
    });
    const drawBars = (counts, color) => {
      const bins = counts.map((c, i) => ({ x0: binEdges[i], x1: binEdges[i + 1], c })).filter((d) => d.c > 0);
      histP.marks.append("g").selectAll("rect").data(bins).enter().append("rect")
        .attr("x", (d) => histP.x(d.x0))
        .attr("width", (d) => histP.x(d.x1) - histP.x(d.x0))
        .attr("y", (d) => histP.y(d.c))
        .attr("height", (d) => histP.y(0) - histP.y(d.c))
        .attr("fill", color).attr("fill-opacity", 0.65)
        .attr("stroke", "#000").attr("stroke-opacity", 0.65).attr("stroke-width", 1.1);
    };
    drawBars(uCounts, "#1f77b4");
    drawBars(vCounts, "#ff7f0e");

    const histLabel = histP.top.selectAll("text").filter(function () { return d3.select(this).text() === "Wind speed (m s"; });
    histLabel.append("tspan").attr("dy", -5).attr("font-size", 9.7).text("\u22121");
    histLabel.append("tspan").attr("dy", 5).text(")");

    const histLeg = legend(histP.top, 1442, 813, 118.5, 36);
    histLeg.append("rect").attr("x", 1446).attr("y", 818).attr("width", 24).attr("height", 8)
      .attr("fill", "#1f77b4").attr("fill-opacity", 0.65).attr("stroke", "#000").attr("stroke-opacity", 0.65);
    histLeg.append("rect").attr("x", 1446).attr("y", 834.5).attr("width", 24).attr("height", 8)
      .attr("fill", "#ff7f0e").attr("fill-opacity", 0.65).attr("stroke", "#000").attr("stroke-opacity", 0.65);
    legendText(histLeg, 1478, 827, "U (zonal)");
    legendText(histLeg, 1478, 843, "V (meridional)");

    // --- text panel
    svg.append("g").selectAll("text").data(infoLines).enter().append("text")
      .attr("x", (d) => d[2] < 13 ? 1221 : 1217).attr("y", (d) => d[1] + d[2] * 0.36)
      .attr("text-anchor", "middle").attr("font-size", (d) => d[2]).attr("fill", (d) => d[3])
      .attr("xml:space", "preserve").style("white-space", "pre")
      .text((d) => d[0]);
  </script>
</body>
</html>
